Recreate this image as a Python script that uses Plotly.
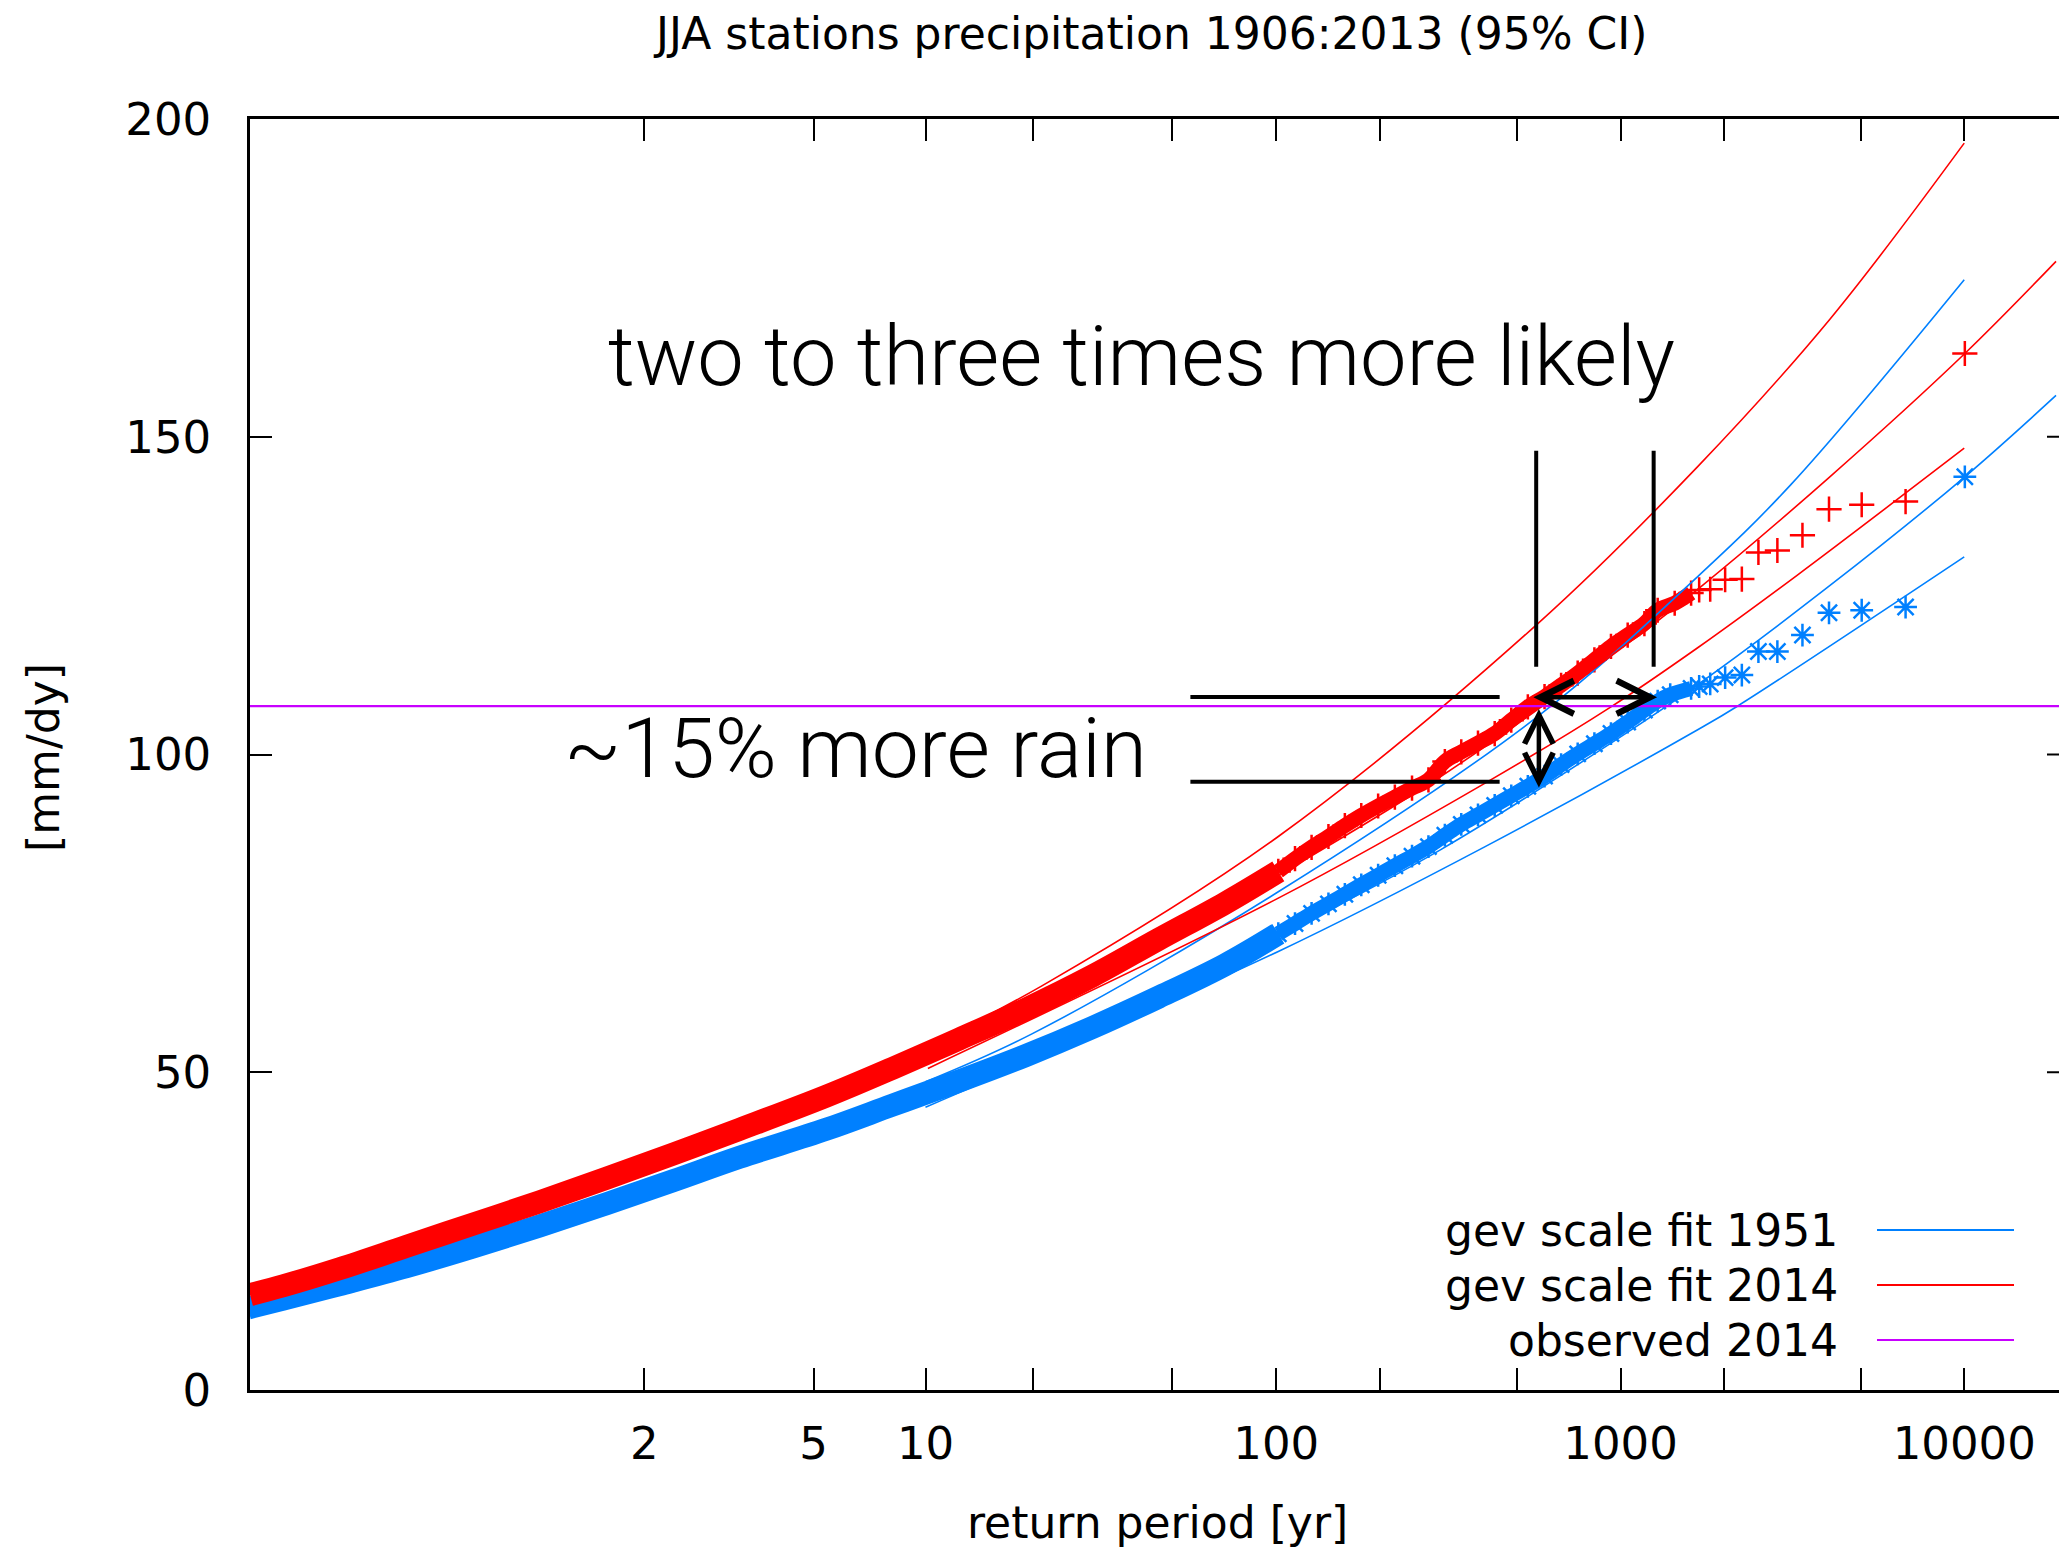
import math
import plotly.graph_objects as go

# ---------------- data (x = Gumbel reduced variate, y = mm/dy) ----------------
tick_return_periods = [2, 5, 10, 20, 50, 100, 200, 500, 1000, 2000, 5000, 10000]
labelled_return_periods = [2, 5, 10, 100, 1000, 10000]
y_ticks = [0, 50, 100, 150, 200]

# observations scaled to 2014 climate (red +)
obs2014_dense_x = [-2.276, -2.053, -1.674, -1.228, -0.782, -0.336, 0.110, 0.556, 1.002,
                   1.582, 2.027, 2.473, 2.919, 3.365, 3.811, 4.257, 4.614]
obs2014_dense_y = [15.0, 16.4, 19.1, 22.6, 26.1, 29.6, 33.3, 37.1, 41.0,
                   46.2, 50.6, 55.2, 59.9, 65.1, 70.9, 76.6, 81.6]
obs2014_cloud_x = [4.614, 4.726, 4.837, 4.950, 5.060, 5.170, 5.283, 5.395, 5.510, 5.620, 5.730,
                   5.840, 5.952, 6.064, 6.175, 6.286, 6.398, 6.509, 6.620, 6.732, 6.843,
                   6.955, 7.067, 7.156, 7.270, 7.380]
obs2014_cloud_y = [81.6, 83.6, 85.4, 87.1, 88.8, 90.4, 91.9, 93.3, 94.7, 96.0, 98.9,
                   100.4, 101.8, 103.3, 105.4, 107.5, 109.1, 110.9, 112.8, 114.9, 117.0,
                   118.8, 120.6, 122.7, 123.8, 125.4]
obs2014_tail_x = [7.434, 7.508, 7.608, 7.720, 7.831, 7.958, 8.126, 8.304, 8.523, 8.817, 9.214]
obs2014_tail_y = [125.9, 126.0, 127.5, 127.6, 131.8, 132.1, 134.5, 138.6, 139.3, 139.8, 163.1]

# observations scaled to 1951 climate (blue *)
obs1951_dense_x = [-2.290, -2.053, -1.674, -1.228, -0.782, -0.336, 0.110, 0.556, 1.002,
                   1.582, 2.027, 2.473, 2.919, 3.365, 3.811, 4.257, 4.614]
obs1951_dense_y = [12.9, 14.3, 16.6, 19.4, 22.5, 25.8, 29.3, 32.9, 36.6,
                   41.0, 44.8, 48.6, 52.6, 57.0, 61.8, 66.9, 71.8]
obs1951_cloud_x = [4.614, 4.726, 4.837, 4.950, 5.060, 5.170, 5.283, 5.395, 5.510, 5.620, 5.730,
                   5.840, 5.952, 6.064, 6.175, 6.286, 6.398, 6.509, 6.620, 6.732, 6.843,
                   6.955, 7.067, 7.156, 7.240, 7.380]
obs1951_cloud_y = [71.8, 73.4, 75.0, 76.5, 78.0, 79.5, 81.0, 82.5, 84.0, 85.5, 87.3,
                   89.0, 90.5, 92.0, 93.5, 95.0, 96.6, 98.4, 100.1, 101.7, 103.3,
                   105.1, 107.0, 108.4, 109.4, 110.4]
obs1951_tail_x = [7.434, 7.508, 7.608, 7.720, 7.831, 7.958, 8.126, 8.304, 8.523, 8.817, 9.214]
obs1951_tail_y = [110.7, 111.1, 112.1, 112.5, 116.2, 116.2, 118.8, 122.3, 122.7, 123.2, 143.7]

# GEV scale fits (central) and 95% CI bounds
fit2014_x = [2.25, 3.40, 4.614, 5.70, 6.843, 7.424, 8.30, 9.214, 9.825]
fit2014_y = [52.5, 65.0, 81.0, 96.5, 115.5, 126.0, 143.5, 163.1, 177.6]
fit2014_hi_x = [2.25, 3.03, 4.614, 6.353, 7.424, 8.31, 9.21]
fit2014_hi_y = [54.0, 63.6, 87.1, 120.6, 145.3, 168.5, 196.2]
fit2014_lo_x = [2.266, 4.614, 6.0, 6.843, 7.424, 8.09, 9.21]
fit2014_lo_y = [50.6, 77.4, 95.5, 107.5, 116.8, 128.2, 148.2]

fit1951_x = [2.25, 3.40, 4.614, 5.70, 6.843, 7.424, 8.30, 9.214, 9.825]
fit1951_y = [46.3, 57.3, 71.4, 85.0, 101.8, 111.0, 126.4, 143.7, 156.5]
fit1951_hi_x = [2.25, 2.96, 4.614, 6.353, 7.424, 8.05, 9.21]
fit1951_hi_y = [48.5, 56.0, 78.4, 106.0, 128.0, 142.5, 174.7]
fit1951_lo_x = [2.25, 2.674, 4.614, 6.0, 7.424, 7.69, 9.21]
fit1951_lo_y = [44.5, 48.8, 69.0, 85.5, 103.9, 107.6, 131.1]

observed_2014 = 107.6

legend_labels = ["gev scale fit 1951", "gev scale fit 2014", "observed 2014"]

# ---------------- styling ----------------
RED = "#FF0000"
BLUE = "#0080FF"
PURPLE = "#C800FF"
BLACK = "#000000"
FONT = "DejaVu Sans, Verdana, sans-serif"
NOTE_FONT = "Helvetica Neue, Roboto, Lato, sans-serif"
FS = 44


def gumbel(T):
    return -math.log(-math.log(1.0 - 1.0 / T))


def px(X):
    return (X - 250) / 1809


def py(Y):
    return (1390 - Y) / 1271


fig = go.Figure()

# data point bands
for dx, dy, cx, cy, tx, ty, col, sym, msz in [
    (obs1951_dense_x, obs1951_dense_y, obs1951_cloud_x, obs1951_cloud_y, obs1951_tail_x, obs1951_tail_y, BLUE, "asterisk", 19),
    (obs2014_dense_x, obs2014_dense_y, obs2014_cloud_x, obs2014_cloud_y, obs2014_tail_x, obs2014_tail_y, RED, "cross-thin", 18),
]:
    fig.add_trace(go.Scatter(x=dx, y=dy, mode="lines", line=dict(color=col, width=23, shape="spline"),
                             hoverinfo="skip", showlegend=False, cliponaxis=False))
    fig.add_trace(go.Scatter(x=cx, y=cy, mode="lines+markers", line=dict(color=col, width=15, shape="spline"),
                             marker=dict(symbol=sym, size=msz, color=col, line=dict(color=col, width=2.5)),
                             hoverinfo="skip", showlegend=False))
    fig.add_trace(go.Scatter(x=tx, y=ty, mode="markers",
                             marker=dict(symbol=sym, size=msz, color=col, line=dict(color=col, width=2.5)),
                             hoverinfo="skip", showlegend=False))

# fit lines
for fx, fy, col in [
    (fit1951_hi_x, fit1951_hi_y, BLUE), (fit1951_x, fit1951_y, BLUE), (fit1951_lo_x, fit1951_lo_y, BLUE),
    (fit2014_hi_x, fit2014_hi_y, RED), (fit2014_x, fit2014_y, RED), (fit2014_lo_x, fit2014_lo_y, RED),
]:
    fig.add_trace(go.Scatter(x=fx, y=fy, mode="lines", line=dict(color=col, width=1.6, shape="spline"),
                             hoverinfo="skip", showlegend=False))

# observed 2014 line
fig.add_shape(type="line", xref="paper", yref="y", x0=0, x1=1, y0=observed_2014, y1=observed_2014,
              line=dict(color=PURPLE, width=2.2))

# mirrored y ticks visible at the right edge (frame itself lies just outside the picture)
for yt in y_ticks[1:-1]:
    fig.add_shape(type="line", xref="paper", yref="y", x0=px(2047), x1=1, y0=yt, y1=yt,
                  line=dict(color=BLACK, width=2))

# ---------------- annotation graphics ----------------
for yv in [109.05, 95.7]:
    fig.add_shape(type="line", xref="x", yref="y", x0=4.025, x1=6.097, y0=yv, y1=yv,
                  line=dict(color=BLACK, width=4))
for xv in [6.342, 7.129]:
    fig.add_shape(type="line", xref="x", yref="y", x0=xv, x1=xv, y0=113.8, y1=147.8,
                  line=dict(color=BLACK, width=4))
fig.add_annotation(x=7.152, y=109.0, ax=6.313, ay=109.0, xref="x", yref="y", axref="x", ayref="y",
                   text="", showarrow=True, arrowside="end+start", arrowhead=5, startarrowhead=5,
                   arrowsize=1.45, startarrowsize=1.45, arrowwidth=4.5, arrowcolor=BLACK, standoff=0, startstandoff=0)
fig.add_annotation(x=6.36, y=94.8, ax=6.36, ay=107.4, xref="x", yref="y", axref="x", ayref="y",
                   text="", showarrow=True, arrowside="end+start", arrowhead=5, startarrowhead=5,
                   arrowsize=1.25, startarrowsize=1.25, arrowwidth=4.5, arrowcolor=BLACK, standoff=0, startstandoff=0)

fig.add_annotation(x=px(1141), y=py(356), xref="paper", yref="paper",
                   text="two to three times more likely", showarrow=False, xanchor="center", yanchor="middle",
                   font=dict(family=NOTE_FONT, size=83, color=BLACK, weight=300))
fig.add_annotation(x=px(855), y=py(748), xref="paper", yref="paper",
                   text="~15% more rain", showarrow=False, xanchor="center", yanchor="middle",
                   font=dict(family=NOTE_FONT, size=84, color=BLACK, weight=300))

# ---------------- legend (right aligned, sample to the right) ----------------
for lab, col, Y in zip(legend_labels, [BLUE, RED, PURPLE], [1230, 1285, 1340]):
    fig.add_annotation(x=px(1840), y=py(Y), xref="paper", yref="paper", text=lab,
                       showarrow=False, xanchor="right", yanchor="middle",
                       font=dict(family=FONT, size=FS, color=BLACK))
    fig.add_shape(type="line", xref="paper", yref="paper", x0=px(1877), x1=px(2014),
                  y0=py(Y), y1=py(Y), line=dict(color=col, width=2))

# titles
fig.add_annotation(x=px(1150), y=py(33), xref="paper", yref="paper",
                   text="JJA stations precipitation 1906:2013 (95% CI)", showarrow=False,
                   xanchor="center", yanchor="middle", font=dict(family=FONT, size=FS, color=BLACK))
fig.add_annotation(x=px(1157), y=py(1522), xref="paper", yref="paper",
                   text="return period [yr]", showarrow=False,
                   xanchor="center", yanchor="middle", font=dict(family=FONT, size=FS, color=BLACK))
fig.add_annotation(x=px(44), y=py(758), xref="paper", yref="paper",
                   text="[mm/dy]", showarrow=False, textangle=-90,
                   xanchor="center", yanchor="middle", font=dict(family=FONT, size=FS, color=BLACK))

fig.update_layout(
    width=2059, height=1551,
    margin=dict(l=250, r=0, t=119, b=161),
    paper_bgcolor="white", plot_bgcolor="white",
    showlegend=False,
    font=dict(family=FONT, size=FS, color=BLACK),
    xaxis=dict(range=[-2.276, 9.845], tickvals=[gumbel(T) for T in tick_return_periods],
               ticktext=[str(T) if T in labelled_return_periods else "" for T in tick_return_periods],
               ticks="inside", ticklen=22, tickwidth=2, tickcolor=BLACK,
               showline=True, linecolor=BLACK, linewidth=2.5, mirror="ticks",
               showgrid=False, zeroline=False, ticklabelstandoff=12,
               tickfont=dict(family=FONT, size=45, color=BLACK)),
    yaxis=dict(range=[0, 200], tickvals=y_ticks,
               ticks="inside", ticklen=22, tickwidth=2, tickcolor=BLACK,
               showline=True, linecolor=BLACK, linewidth=2.5, mirror=False,
               showgrid=False, zeroline=False, ticklabelstandoff=27,
               tickfont=dict(family=FONT, size=45, color=BLACK)),
)

fig.write_html("out.html", config={"displayModeBar": False},
               post_script="document.body.style.margin='0px';document.body.style.padding='0px';")
